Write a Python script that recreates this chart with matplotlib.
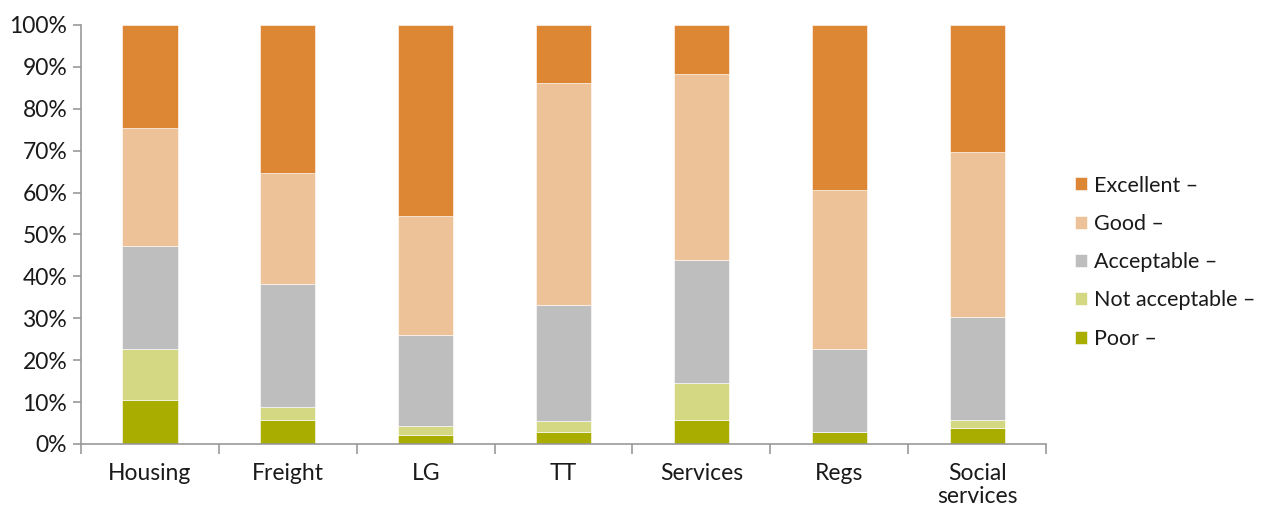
import numpy as np
import matplotlib
matplotlib.use("Agg")
from matplotlib import pyplot as plt
from matplotlib.ticker import FuncFormatter, FixedLocator

plt.rcParams['font.family'] = ['Lato', 'DejaVu Sans']

categories = ["Housing", "Freight", "LG", "TT", "Services", "Regs", "Social\nservices"]
# shares in percent
poor = [10.5, 5.7, 2.1, 2.9, 5.7, 2.9, 3.8]
not_acceptable = [12.2, 3.1, 2.2, 2.6, 8.9, 0.0, 1.9]
acceptable = [24.6, 29.4, 21.7, 27.7, 29.3, 19.8, 24.6]
good = [28.1, 26.5, 28.4, 53.0, 44.4, 37.9, 39.4]
excellent = [24.6, 35.3, 45.6, 13.8, 11.7, 39.4, 30.3]

series = [
    ("Poor \u2013", poor, "#a9ad00"),
    ("Not acceptable \u2013", not_acceptable, "#d4d883"),
    ("Acceptable \u2013", acceptable, "#bebebe"),
    ("Good \u2013", good, "#eec299"),
    ("Excellent \u2013", excellent, "#dd8633"),
]

fs = 16.5
fig = plt.figure(figsize=(12.72, 5.07), dpi=100)
ax = fig.add_axes([0.0637, 0.1243, 0.7587, 0.8264])

x = np.arange(len(categories))
bottom = np.zeros(len(categories))
handles = []
for name, vals, col in series:
    b = ax.bar(x, vals, 0.4, bottom=bottom, color=col, label=name,
               edgecolor="white", linewidth=0.4)
    bottom += np.array(vals)
    handles.append(b)

ax.set_xlim(-0.5, len(categories) - 0.5)
ax.set_ylim(0, 100)
ax.yaxis.set_major_locator(FixedLocator(np.arange(0, 101, 10)))
ax.yaxis.set_major_formatter(FuncFormatter(lambda v, p: f"{v:.0f}%"))
ax.set_xticks(x)
ax.set_xticklabels(categories, linespacing=1.1)
ax.xaxis.set_minor_locator(FixedLocator(np.arange(-0.5, len(categories), 1)))
ax.tick_params(axis="x", which="major", length=0, pad=14, labelsize=fs, colors="#1a1a1a")
ax.tick_params(axis="x", which="minor", length=7, color="#999999", width=1.2)
ax.tick_params(axis="y", length=6, color="#999999", width=1.2, labelsize=fs,
               labelcolor="#1a1a1a", pad=4)
for s in ["top", "right"]:
    ax.spines[s].set_visible(False)
for s in ["left", "bottom"]:
    ax.spines[s].set_color("#999999")
    ax.spines[s].set_linewidth(1.2)

leg = ax.legend(handles[::-1], [s[0] for s in series][::-1], loc="center left",
                bbox_to_anchor=(1.0096, 0.434), frameon=False, fontsize=15.5,
                handlelength=0.55, handleheight=0.55, handletextpad=0.35,
                labelspacing=0.85)
for t in leg.get_texts():
    t.set_color("#1a1a1a")

fig.savefig("out.png", dpi=100)
